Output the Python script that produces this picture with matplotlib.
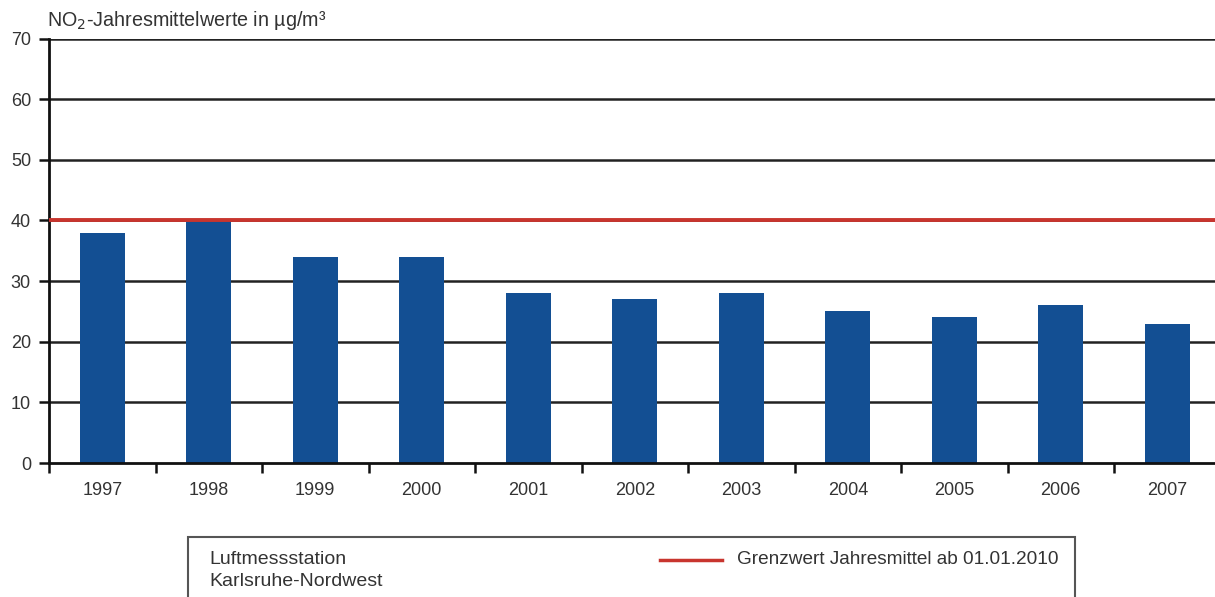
import matplotlib
matplotlib.use("Agg")
import matplotlib.pyplot as plt
from matplotlib.patches import Rectangle
from matplotlib.lines import Line2D
import numpy as np

plt.rcParams['font.family'] = ['Liberation Sans', 'DejaVu Sans']

years = ["1997", "1998", "1999", "2000", "2001", "2002", "2003", "2004", "2005", "2006", "2007"]
no2_means = [38, 40, 34, 34, 28, 27, 28, 25, 24, 26, 23]
limit_value = 40
y_ticks = [0, 10, 20, 30, 40, 50, 60, 70]

bar_color = "#134f93"
limit_color = "#c8352e"
text_color = "#333333"

W, H = 1215, 597
fig = plt.figure(figsize=(W / 100, H / 100), dpi=100)
# plot area runs slightly past the right edge of the figure
ax = fig.add_axes([49 / W, 1 - 463 / H, 1171.5 / W, (463 - 38.5) / H])

x = np.arange(len(years))
ax.set_xlim(-0.5, len(years) - 0.5)
ax.set_ylim(0, 70)

# horizontal grid lines
for v in y_ticks[1:]:
    ax.axhline(v, color="#222222", lw=1.8, zorder=1)

ax.bar(x, no2_means, width=0.42, color=bar_color, zorder=2)
ax.axhline(limit_value, color=limit_color, lw=2.8, zorder=3)

for side in ("top", "right"):
    ax.spines[side].set_visible(False)
for side in ("left", "bottom"):
    ax.spines[side].set_color("#111111")
    ax.spines[side].set_linewidth(2)

ax.set_yticks(y_ticks)
ax.set_yticklabels([str(v) for v in y_ticks], fontsize=13, color=text_color)
ax.tick_params(axis="y", direction="out", length=7, width=1.8, color="#111111", pad=6)

ax.set_xticks(x)
ax.set_xticklabels(years, fontsize=13, color=text_color)
ax.tick_params(axis="x", which="major", length=0, pad=14)
ax.set_xticks(np.arange(-0.5, len(years), 1.0), minor=True)
ax.tick_params(axis="x", which="minor", direction="out", length=7, width=1.8, color="#111111")

fig.text(47 / W, 1 - 21 / H, "NO$_2$-Jahresmittelwerte in µg/m³", fontsize=14.2, color=text_color,
         ha="left", va="center")

# legend box below the chart
box = Rectangle((188 / W, -0.05), (1075 - 188) / W, (H - 537) / H + 0.05,
                transform=fig.transFigure, fill=False, edgecolor="#555555", lw=1.5,
                clip_on=False)
fig.add_artist(box)
fig.text(209 / W, 1 - 559 / H, "Luftmessstation", fontsize=14, color=text_color,
         ha="left", va="center")
fig.text(209 / W, 1 - 582 / H, "Karlsruhe-Nordwest", fontsize=14, color=text_color,
         ha="left", va="center")
fig.add_artist(Line2D([660 / W, 722 / W], [1 - 560 / H, 1 - 560 / H],
                      transform=fig.transFigure, color=limit_color, lw=2.5))
fig.text(737 / W, 1 - 559 / H, "Grenzwert Jahresmittel ab 01.01.2010", fontsize=13.7,
         color=text_color, ha="left", va="center")

fig.savefig("out.png", dpi=100, facecolor="white")
